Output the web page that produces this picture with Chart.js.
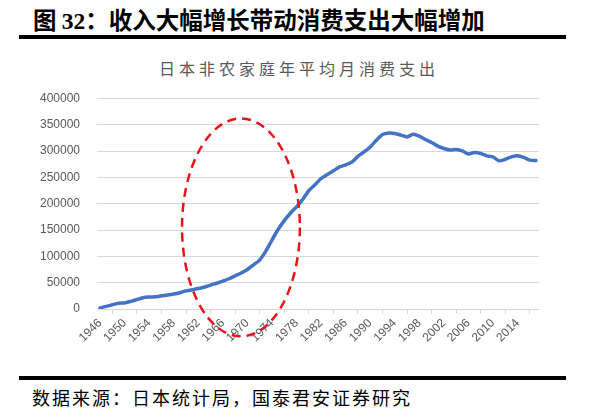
<!DOCTYPE html>
<html>
<head>
<meta charset="utf-8">
<script src="https://cdn.jsdelivr.net/npm/chart.js@4.4.0/dist/chart.umd.min.js"></script>
<style>
    html, body { margin: 0; padding: 0; background: #fff; }
    body { width: 598px; height: 418px; position: relative; overflow: hidden; font-family: "Noto Sans CJK SC", sans-serif; }
    #figTitle { position: absolute; left: 33px; top: 5px; font-size: 23.5px; font-weight: bold; color: #000; line-height: 28px; white-space: nowrap; }
    #figTitle .num { font-family: "Liberation Serif", serif; }
    .rule { position: absolute; left: 19px; width: 547px; height: 4px; background: #000; }
    #chartTitle { position: absolute; left: 0; width: 598px; top: 58px; text-align: center; font-size: 16px; color: #595959; letter-spacing: 4px; line-height: 20px; }
    #source { position: absolute; left: 32px; top: 386px; font-size: 18px; color: #000; line-height: 22px; letter-spacing: 2px; white-space: nowrap; }
    #wrap { position: absolute; left: 0; top: 45px; width: 598px; height: 330px; }
</style>
</head>
<body>
<div id="figTitle">图 <span class="num">32</span>：收入大幅增长带动消费支出大幅增加</div>
<div class="rule" style="top:35px"></div>
<div id="chartTitle">日本非农家庭年平均月消费支出</div>
<div id="wrap"><canvas id="graph" width="598" height="330"></canvas></div>
<div class="rule" style="top:376px"></div>
<div id="source">数据来源：日本统计局，国泰君安证券研究</div>

<script>
// 1946 ~ 2017
const years = [];
for (let y = 1946; y <= 2017; y++) years.push(String(y));

const xTickLabels = ['1946', '1950', '1954', '1958', '1962', '1966', '1970', '1974', '1978', '1982',
    '1986', '1990', '1994', '1998', '2002', '2006', '2010', '2014'];

const yTicks = [0, 50000, 100000, 150000, 200000, 250000, 300000, 350000, 400000];

// 月平均消费支出 (日元)
const spending = [
    2000, 5000, 8000, 11000, 11500, 14500, 18000, 21500, 22700, 23200,
    25000, 26500, 28400, 31000, 34500, 36500, 39000, 41500, 45500, 49000,
    53000, 57500, 63000, 68500, 75000, 84000, 93000, 110000, 131000, 151000,
    168000, 182000, 194000, 208000, 225000, 236000, 248000, 255500, 262500, 270000,
    274000, 279000, 290000, 298500, 308000, 320500, 331500, 334500, 333500, 330500,
    327000, 332000, 328500, 322000, 316500, 309500, 305000, 302000, 303000, 300500,
    294500, 297500, 295500, 291000, 289000, 281500, 284500, 289000, 291000, 288000,
    283000, 282000
];

// 红色虚线椭圆 (类目序号 / 数值单位)
const ring = {cx: 22.95, cy: 155000, rx: 9.6, ry: 207000};

const ringPlugin = {
    id: 'ring',
    afterDraw(chart) {
        const x = chart.scales.x;
        const y = chart.scales.y;
        const cx = x.getPixelForValue(ring.cx);
        const cy = y.getPixelForValue(ring.cy);
        const rx = Math.abs(x.getPixelForValue(ring.cx + ring.rx) - cx);
        const ry = Math.abs(y.getPixelForValue(ring.cy + ring.ry) - cy);
        const ctx = chart.ctx;
        ctx.save();
        ctx.beginPath();
        ctx.ellipse(cx, cy, rx, ry, 0, 0, Math.PI * 2);
        ctx.setLineDash([9, 6]);
        ctx.lineWidth = 2.5;
        ctx.strokeStyle = '#E8141B';
        ctx.stroke();
        ctx.restore();
    }
};

const tickFont = {family: '"Liberation Sans", Arial, sans-serif', size: 12};

const graph = new Chart(document.getElementById('graph'), {
    type: 'line',
    data: {
        labels: years,
        datasets: [
            {
                label: '消费支出',
                data: spending,
                borderColor: '#4472C4',
                borderWidth: 3.5,
                pointRadius: 0,
                tension: 0.2,
                borderCapStyle: 'round',
                borderJoinStyle: 'round'
            }
        ]
    },
    options: {
        responsive: false,
        animation: false,
        layout: {padding: {top: 53.5, right: 59, left: 0, bottom: 0}},
        plugins: {
            legend: {display: false},
            tooltip: {enabled: false}
        },
        scales: {
            x: {
                offset: true,
                grid: {
                    display: true,
                    offset: true,
                    drawOnChartArea: false,
                    drawTicks: true,
                    tickLength: 5,
                    color: '#d9d9d9'
                },
                border: {color: '#d9d9d9', width: 1},
                ticks: {
                    autoSkip: false,
                    maxRotation: 45,
                    minRotation: 45,
                    padding: 2,
                    color: '#595959',
                    font: tickFont,
                    callback: function (value) {
                        const lbl = this.getLabelForValue(value);
                        return xTickLabels.includes(lbl) ? lbl : null;
                    }
                },
                afterFit: s => { s.height = 66; }
            },
            y: {
                min: 0,
                max: 400000,
                afterBuildTicks: s => { s.ticks = yTicks.map(v => ({value: v})); },
                grid: {color: '#d9d9d9', lineWidth: 1, drawTicks: false},
                border: {display: false},
                ticks: {
                    padding: 17,
                    color: '#595959',
                    font: tickFont,
                    callback: value => String(value)
                },
                afterFit: s => { s.width = 97; }
            }
        }
    },
    plugins: [ringPlugin]
});
</script>
</body>
</html>
